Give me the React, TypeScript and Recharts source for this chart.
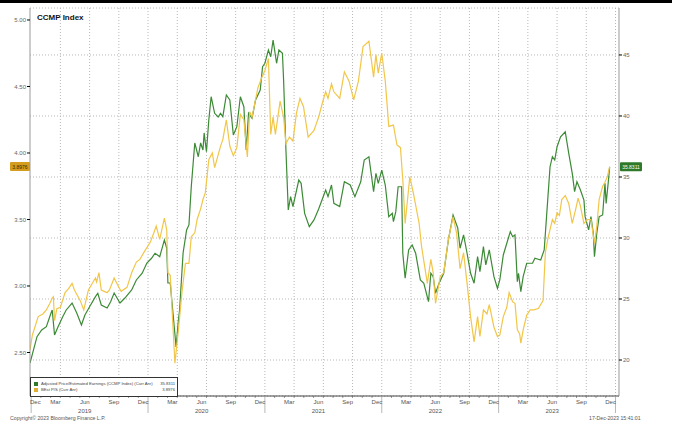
import React from 'react'
import {
  LineChart, Line, XAxis, YAxis, CartesianGrid, ReferenceLine,
} from 'recharts'

// Adjusted P/E (CCMP Index), right axis
const PE_DATES = [
  2018.99, 2019.05, 2019.09, 2019.13, 2019.17, 2019.18, 2019.20, 2019.23, 2019.27, 2019.30,
  2019.35, 2019.39, 2019.43, 2019.46, 2019.50, 2019.55, 2019.57, 2019.60, 2019.65, 2019.68,
  2019.71, 2019.76, 2019.80, 2019.86, 2019.90, 2019.95, 2019.99, 2020.03, 2020.06, 2020.10,
  2020.14, 2020.16, 2020.17, 2020.19, 2020.24, 2020.26, 2020.27, 2020.30, 2020.33, 2020.35,
  2020.37, 2020.40, 2020.43, 2020.45, 2020.47, 2020.48, 2020.50, 2020.52, 2020.54, 2020.57,
  2020.60, 2020.62, 2020.64, 2020.67, 2020.70, 2020.73, 2020.76, 2020.79, 2020.82, 2020.84,
  2020.86, 2020.89, 2020.92, 2020.96, 2020.98, 2021.00, 2021.03, 2021.05, 2021.07, 2021.10,
  2021.12, 2021.15, 2021.16, 2021.18, 2021.20, 2021.22, 2021.24, 2021.29, 2021.31, 2021.34,
  2021.38, 2021.42, 2021.46, 2021.52, 2021.54, 2021.57, 2021.59, 2021.64, 2021.68, 2021.73,
  2021.77, 2021.82, 2021.85, 2021.89, 2021.93, 2021.95, 2021.97, 2022.00, 2022.03, 2022.06,
  2022.09, 2022.10, 2022.12, 2022.14, 2022.17, 2022.18, 2022.20, 2022.23, 2022.26, 2022.29,
  2022.33, 2022.36, 2022.40, 2022.42, 2022.44, 2022.46, 2022.49, 2022.53, 2022.57, 2022.61,
  2022.65, 2022.67, 2022.70, 2022.73, 2022.76, 2022.79, 2022.82, 2022.84, 2022.87, 2022.89,
  2022.92, 2022.96, 2022.99, 2023.01, 2023.04, 2023.07, 2023.10, 2023.12, 2023.14, 2023.16,
  2023.17, 2023.19, 2023.21, 2023.24, 2023.29, 2023.31, 2023.36, 2023.39, 2023.41, 2023.44,
  2023.46, 2023.48, 2023.50, 2023.53, 2023.57, 2023.60, 2023.63, 2023.65, 2023.67, 2023.70,
  2023.73, 2023.74, 2023.77, 2023.79, 2023.81, 2023.82, 2023.84, 2023.86, 2023.89, 2023.91,
  2023.92, 2023.94, 2023.95,
]
const PE_VALUES = [
  19.75, 21.91, 22.46, 22.73, 23.85, 24.10, 22.05, 22.73, 23.55, 24.10,
  24.67, 23.85, 22.87, 23.69, 24.37, 25.19, 25.47, 24.51, 24.26, 24.78,
  25.49, 24.67, 25.06, 25.74, 26.56, 27.11, 27.95, 28.34, 28.75, 28.47,
  29.84, 29.16, 26.31, 26.31, 21.07, 23.28, 24.10, 28.77, 30.66, 31.07,
  34.20, 37.79, 36.66, 37.79, 37.21, 38.61, 37.07, 39.67, 41.58, 40.22,
  39.92, 40.22, 39.94, 41.72, 41.31, 38.44, 39.12, 41.58, 40.76, 37.21,
  40.22, 39.81, 41.31, 42.13, 44.04, 44.32, 45.41, 44.86, 46.23, 44.32,
  45.41, 45.14, 42.95, 37.21, 32.30, 33.39, 32.57, 34.75, 34.48, 32.02,
  30.93, 31.48, 32.38, 33.93, 33.39, 34.34, 32.84, 32.57, 34.61, 34.34,
  33.39, 34.61, 36.39, 36.66, 33.80, 35.30, 34.48, 35.57, 34.34, 31.75,
  32.02, 31.34, 32.16, 34.20, 34.20, 28.75, 26.70, 29.02, 29.43, 28.75,
  26.56, 26.29, 24.78, 27.11, 26.83, 25.47, 26.29, 27.11, 29.84, 31.89,
  30.82, 29.16, 30.25, 28.75, 27.11, 26.29, 28.47, 27.24, 29.29, 27.79,
  29.02, 26.83, 25.88, 26.56, 28.61, 29.57, 30.52, 30.11, 30.25, 26.42,
  27.11, 25.60, 26.83, 27.93, 27.93, 28.34, 28.20, 29.02, 31.75, 35.84,
  36.66, 36.39, 37.48, 38.30, 38.71, 36.94, 35.30, 33.80, 34.61, 33.93,
  33.11, 31.75, 30.66, 31.75, 30.39, 28.47, 30.39, 31.75, 31.89, 34.48,
  32.84, 34.75, 35.8311,
]

// BEst P/S, left axis
const PS_DATES = [
  2018.99, 2019.01, 2019.06, 2019.10, 2019.13, 2019.16, 2019.18, 2019.19, 2019.20, 2019.22,
  2019.25, 2019.29, 2019.32, 2019.35, 2019.37, 2019.42, 2019.45, 2019.49, 2019.53, 2019.55,
  2019.56, 2019.58, 2019.60, 2019.65, 2019.67, 2019.71, 2019.75, 2019.77, 2019.82, 2019.86,
  2019.90, 2019.93, 2019.97, 2020.02, 2020.05, 2020.07, 2020.10, 2020.14, 2020.16, 2020.17,
  2020.19, 2020.23, 2020.26, 2020.29, 2020.32, 2020.35, 2020.37, 2020.40, 2020.42, 2020.45,
  2020.47, 2020.49, 2020.52, 2020.55, 2020.57, 2020.62, 2020.64, 2020.67, 2020.70, 2020.73,
  2020.76, 2020.79, 2020.82, 2020.85, 2020.87, 2020.89, 2020.94, 2020.97, 2021.00, 2021.03,
  2021.05, 2021.07, 2021.09, 2021.13, 2021.16, 2021.18, 2021.21, 2021.24, 2021.27, 2021.30,
  2021.33, 2021.37, 2021.42, 2021.46, 2021.49, 2021.52, 2021.54, 2021.57, 2021.59, 2021.64,
  2021.68, 2021.72, 2021.76, 2021.80, 2021.84, 2021.89, 2021.93, 2021.95, 2021.97, 2022.00,
  2022.03, 2022.06, 2022.10, 2022.13, 2022.16, 2022.18, 2022.20, 2022.24, 2022.27, 2022.32,
  2022.34, 2022.39, 2022.42, 2022.44, 2022.46, 2022.50, 2022.53, 2022.57, 2022.61, 2022.64,
  2022.67, 2022.70, 2022.73, 2022.76, 2022.79, 2022.82, 2022.84, 2022.87, 2022.90, 2022.92,
  2022.96, 2022.99, 2023.01, 2023.04, 2023.07, 2023.09, 2023.12, 2023.14, 2023.16, 2023.18,
  2023.19, 2023.21, 2023.24, 2023.27, 2023.30, 2023.34, 2023.38, 2023.40, 2023.42, 2023.46,
  2023.48, 2023.50, 2023.52, 2023.54, 2023.57, 2023.60, 2023.63, 2023.66, 2023.68, 2023.70,
  2023.73, 2023.76, 2023.79, 2023.82, 2023.84, 2023.86, 2023.89, 2023.91, 2023.93, 2023.95,
]
const PS_VALUES = [
  2.52, 2.63, 2.77, 2.79, 2.82, 2.87, 2.91, 2.92, 2.74, 2.83,
  2.84, 2.95, 2.98, 3.02, 2.97, 2.89, 2.82, 2.97, 3.03, 3.06,
  3.03, 3.10, 2.97, 2.95, 2.97, 3.06, 2.99, 2.96, 2.99, 3.10,
  3.18, 3.20, 3.26, 3.33, 3.40, 3.45, 3.35, 3.51, 3.42, 3.10,
  3.08, 2.42, 2.67, 2.95, 3.17, 3.17, 3.37, 3.40, 3.50, 3.58,
  3.65, 3.70, 3.95, 4.00, 3.89, 4.05, 4.10, 4.25, 4.05, 3.98,
  4.04, 4.29, 4.25, 3.97, 4.31, 4.27, 4.49, 4.56, 4.62, 4.71,
  4.14, 4.27, 4.14, 4.39, 4.27, 4.07, 4.12, 4.09, 4.30, 4.41,
  4.35, 4.12, 4.17, 4.27, 4.37, 4.46, 4.41, 4.52, 4.46, 4.41,
  4.61, 4.54, 4.40, 4.54, 4.80, 4.84, 4.57, 4.74, 4.60, 4.75,
  4.54, 4.20, 4.21, 4.06, 4.04, 3.80, 3.47, 3.82, 3.70, 3.47,
  3.30, 3.02, 3.20, 3.10, 2.87, 3.07, 3.10, 3.35, 3.52, 3.40,
  3.13, 3.25, 3.02, 2.77, 2.58, 2.77, 2.62, 2.82, 2.79, 2.86,
  2.69, 2.62, 2.63, 2.77, 2.84, 2.95, 2.88, 2.87, 2.67, 2.64,
  2.57, 2.67, 2.78, 2.82, 2.82, 2.83, 2.89, 3.25, 3.35, 3.50,
  3.47, 3.55, 3.53, 3.65, 3.68, 3.62, 3.47, 3.58, 3.66, 3.60,
  3.47, 3.50, 3.50, 3.32, 3.45, 3.65, 3.75, 3.78, 3.82, 3.8976,
]

const LEFT_TICKS = [2.5, 3, 3.5, 4, 4.5, 5]
const RIGHT_TICKS = [20, 25, 30, 35, 40, 45]
const YEARS = [2019, 2020, 2021, 2022, 2023]
const QUARTER_LABELS = ['Mar', 'Jun', 'Sep', 'Dec']
const QUARTER_MONTHS = [2, 5, 8, 11]

const X_DOMAIN: [number, number] = [2018.99, 2024.03]
const GREEN = '#3c8a35'
const YELLOW = '#f2c649'
const GRID = '#b8b8b8'
const FONT = '"Liberation Sans", Arial, sans-serif'

const peData = PE_DATES.map((t, i) => ({ t, v: PE_VALUES[i] }))
const psData = PS_DATES.map((t, i) => ({ t, v: PS_VALUES[i] }))

type TickItem = { value: number; kind: 'minor' | 'year' | 'label'; text?: string; year?: string; anchor?: 'start' | 'middle' }

const TICK_ITEMS: TickItem[] = []
for (const y of [...YEARS, 2024]) {
  for (let m = 0; m < 12; m++) {
    const value = y + m / 12
    if (value > X_DOMAIN[1]) break
    TICK_ITEMS.push({ value, kind: m === 0 ? 'year' : 'minor' })
  }
}
TICK_ITEMS.push({ value: X_DOMAIN[0], kind: 'label', text: 'Dec', anchor: 'start' })
YEARS.forEach((y) => {
  QUARTER_MONTHS.forEach((m, qi) => {
    TICK_ITEMS.push({
      value: y + (m + 0.5) / 12,
      kind: 'label',
      text: QUARTER_LABELS[qi],
      year: m === 5 ? String(y) : undefined,
      anchor: 'middle',
    })
  })
})

const QUARTER_LINES: number[] = []
YEARS.forEach((y) => [0.25, 0.5, 0.75, 1].forEach((q) => QUARTER_LINES.push(y + q)))

// eslint-disable-next-line @typescript-eslint/no-explicit-any
function XTick({ x, y, payload }: any) {
  const item = TICK_ITEMS.find((d) => Math.abs(d.value - payload.value) < 1e-9)
  if (!item) return null
  if (item.kind === 'minor') {
    return <line x1={x} x2={x} y1={y} y2={y + 2} stroke="#555" strokeWidth={0.6} />
  }
  if (item.kind === 'year') {
    return <line x1={x} x2={x} y1={y} y2={y + 17} stroke="#999" strokeWidth={0.7} />
  }
  return (
    <g fontFamily={FONT} fill="#555" fontSize={6}>
      <text x={x} y={y + 8} textAnchor={item.anchor}>{item.text}</text>
      {item.year && <text x={x} y={y + 17} textAnchor="middle">{item.year}</text>}
    </g>
  )
}

// eslint-disable-next-line @typescript-eslint/no-explicit-any
function ValueTag({ viewBox, side, text, fill, color }: any) {
  if (!viewBox) return null
  const w = side === 'left' ? 20 : 22
  const x0 = side === 'left' ? viewBox.x - w : viewBox.x + viewBox.width + 1
  return (
    <g>
      <rect x={x0} y={viewBox.y - 4.5} width={w} height={9} rx={1} fill={fill} />
      <text x={x0 + w / 2} y={viewBox.y + 2} textAnchor="middle" fontSize={5} fontFamily={FONT} fill={color}>
        {text}
      </text>
    </g>
  )
}

export default function App() {
  const lastPs = PS_VALUES[PS_VALUES.length - 1]
  const lastPe = PE_VALUES[PE_VALUES.length - 1]
  return (
    <div style={{ position: 'absolute', left: 0, top: 0, width: 675, height: 426, background: '#fff', fontFamily: FONT }}>
      <div style={{ position: 'absolute', left: 0, top: 0, width: 672, height: 3, background: '#000' }} />
      <LineChart width={675} height={426} margin={{ top: 8, right: 0, left: 0, bottom: 0 }}>
        <CartesianGrid yAxisId="right" vertical={false} stroke={GRID} strokeDasharray="1 2" />
        <XAxis
          dataKey="t"
          type="number"
          domain={X_DOMAIN}
          allowDataOverflow
          ticks={TICK_ITEMS.map((d) => d.value)}
          interval={0}
          tick={<XTick />}
          tickLine={false}
          tickSize={0}
          tickMargin={0}
          height={30}
          axisLine={{ stroke: '#444' }}
        />
        <YAxis
          yAxisId="left"
          orientation="left"
          width={30}
          domain={[2.173, 5.09]}
          allowDataOverflow
          ticks={LEFT_TICKS}
          tickFormatter={(v: number) => v.toFixed(2)}
          tick={{ fontSize: 6, fill: '#666', fontFamily: FONT }}
          tickSize={3}
          tickMargin={1}
          tickLine={{ stroke: '#000' }}
          axisLine={{ stroke: '#999' }}
        />
        <YAxis
          yAxisId="right"
          orientation="right"
          width={56}
          domain={[17.05, 48.85]}
          allowDataOverflow
          ticks={RIGHT_TICKS}
          tick={{ fontSize: 6, fill: '#666', fontFamily: FONT }}
          tickSize={3}
          tickMargin={1}
          tickLine={{ stroke: '#000' }}
          axisLine={{ stroke: '#999' }}
        />
        {QUARTER_LINES.map((q) => (
          <ReferenceLine key={q} x={q} yAxisId="left" stroke={GRID} strokeDasharray="1 2" />
        ))}
        <Line
          data={peData}
          dataKey="v"
          yAxisId="right"
          type="linear"
          stroke={GREEN}
          strokeWidth={1.2}
          dot={false}
          isAnimationActive={false}
        />
        <Line
          data={psData}
          dataKey="v"
          yAxisId="left"
          type="linear"
          stroke={YELLOW}
          strokeWidth={1.2}
          dot={false}
          isAnimationActive={false}
        />
        <ReferenceLine
          y={lastPs}
          yAxisId="left"
          stroke="none"
          label={<ValueTag side="left" text="3.8976" fill="#d49d1e" color="#3a2800" />}
        />
        <ReferenceLine
          y={lastPe}
          yAxisId="right"
          stroke="none"
          label={<ValueTag side="right" text="35.8311" fill="#2e7a2a" color="#fff" />}
        />
      </LineChart>

      <div style={{ position: 'absolute', left: 37, top: 13, fontSize: 8, fontWeight: 700, color: '#111' }}>
        CCMP Index
      </div>

      <div style={{
        position: 'absolute', left: 30, top: 377, width: 146, height: 18,
        border: '1px solid #333', background: '#fff', fontSize: 4.2, color: '#444', lineHeight: '5px',
      }}>
        <div style={{ display: 'flex', alignItems: 'center', margin: '3px 2px 0 3px' }}>
          <span style={{ width: 4, height: 4, background: '#2e7a2a', marginRight: 3 }} />
          <span style={{ flex: 1 }}>Adjusted Price/Estimated Earnings (CCMP Index) (Curr Anr)</span>
          <span>35.8311</span>
        </div>
        <div style={{ display: 'flex', alignItems: 'center', margin: '1px 2px 0 3px' }}>
          <span style={{ width: 4, height: 4, background: '#e0b030', marginRight: 3 }} />
          <span style={{ flex: 1 }}>BEst P/S (Curr Anr)</span>
          <span>3.8976</span>
        </div>
      </div>

      <div style={{ position: 'absolute', left: 10, top: 415, fontSize: 5.2, color: '#555' }}>
        Copyright© 2023 Bloomberg Finance L.P.
      </div>
      <div style={{ position: 'absolute', left: 589, top: 415, fontSize: 5.2, color: '#555' }}>
        17-Dec-2023 15:41:01
      </div>
    </div>
  )
}
